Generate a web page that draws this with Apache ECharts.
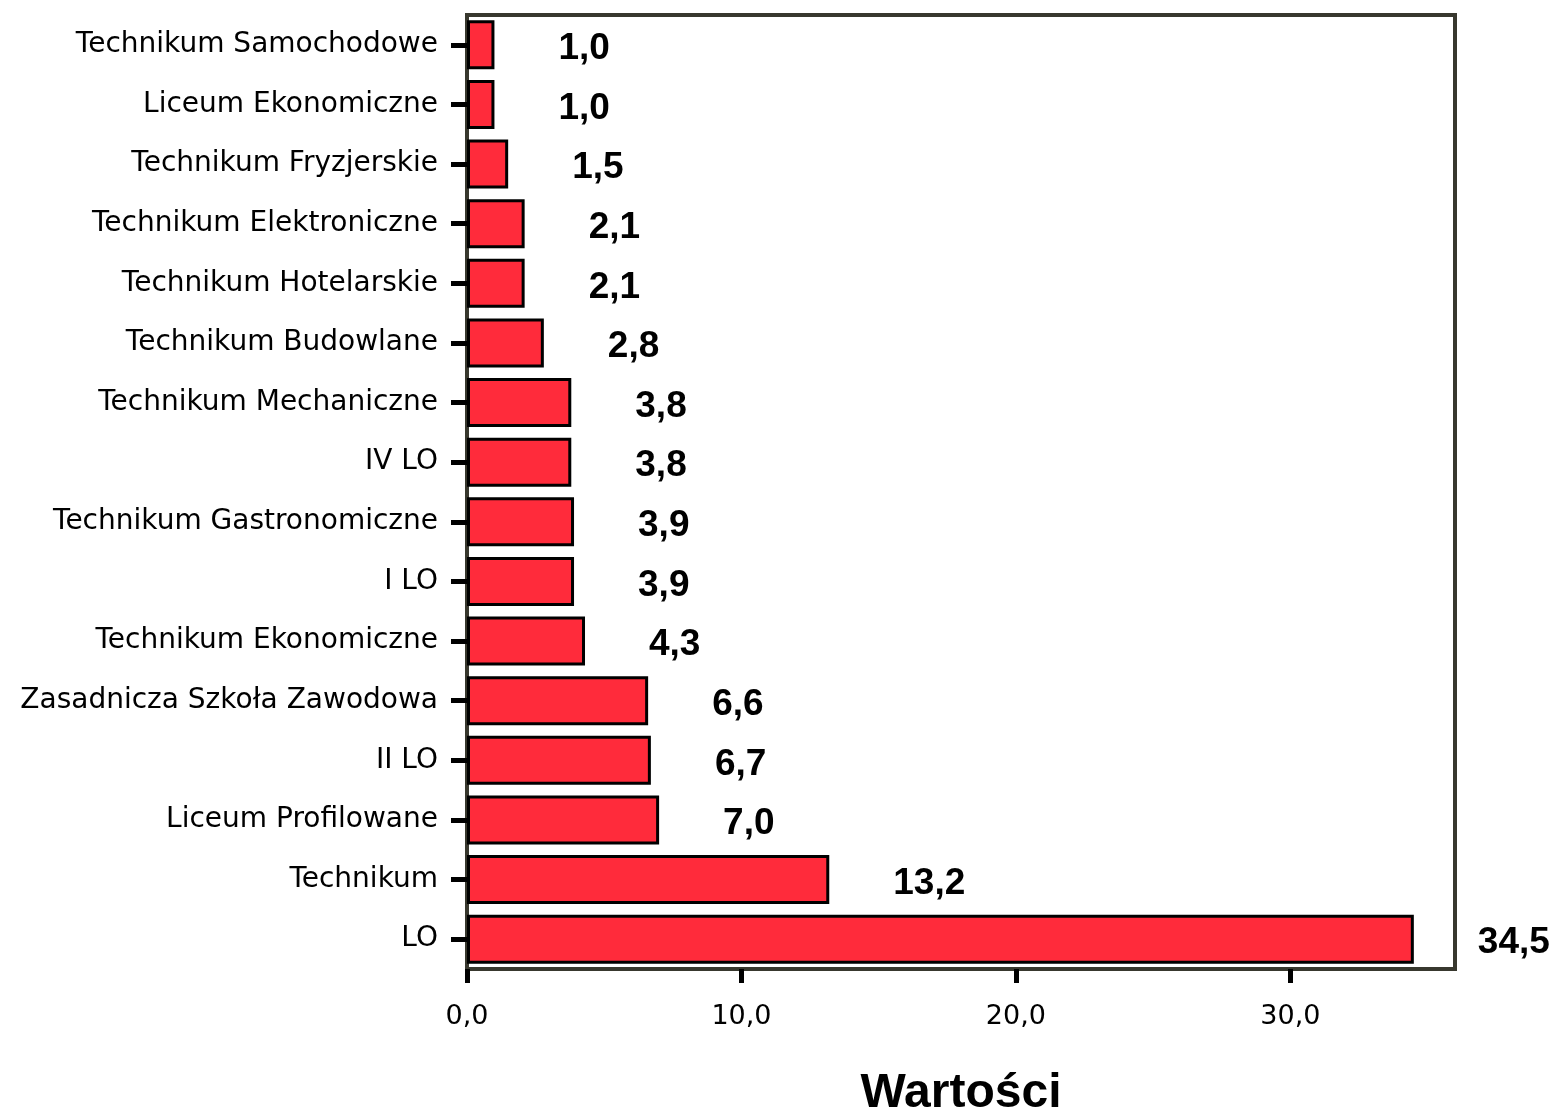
<!DOCTYPE html>
<html>
<head>
<meta charset="utf-8">
<script src="https://cdn.jsdelivr.net/npm/echarts@6/dist/echarts.min.js"></script>
<style>
  html, body { margin: 0; padding: 0; background: #fff; }
  #chart { width: 1558px; height: 1114px; }
</style>
</head>
<body>
<div id="chart"></div>
<script>
// szkoly, od gory do dolu
const schools = [
  'Technikum Samochodowe',
  'Liceum Ekonomiczne',
  'Technikum Fryzjerskie',
  'Technikum Elektroniczne',
  'Technikum Hotelarskie',
  'Technikum Budowlane',
  'Technikum Mechaniczne',
  'IV LO',
  'Technikum Gastronomiczne',
  'I LO',
  'Technikum Ekonomiczne',
  'Zasadnicza Szkoła Zawodowa',
  'II LO',
  'Liceum Profilowane',
  'Technikum',
  'LO'
];
const values = [1.0, 1.0, 1.5, 2.1, 2.1, 2.8, 3.8, 3.8, 3.9, 3.9, 4.3, 6.6, 6.7, 7.0, 13.2, 34.5];
const xTicks = [0, 10, 20, 30];
const axisTitle = 'Wartości';

const fmt = v => Number(v).toFixed(1).replace('.', ',');

const chart = echarts.init(document.getElementById('chart'));
chart.setOption({
  animation: false,
  backgroundColor: '#ffffff',
  grid: {
    left: 467,
    right: 103,
    top: 15,
    bottom: 145,
    outerBoundsMode: 'none',
    containLabel: false,
    show: true,
    borderColor: '#38382e',
    borderWidth: 4
  },
  xAxis: {
    type: 'value',
    min: 0,
    max: 36,
    interval: 10,
    name: axisTitle,
    nameLocation: 'middle',
    nameGap: 101,
    nameTextStyle: {
      fontFamily: 'Liberation Sans',
      fontWeight: 'bold',
      fontSize: 48,
      color: '#000'
    },
    axisLine: { show: false },
    axisTick: {
      show: true,
      length: 14,
      customValues: xTicks,
      lineStyle: { color: '#000', width: 5 }
    },
    axisLabel: {
      customValues: xTicks,
      margin: 34,
      fontFamily: 'DejaVu Sans',
      fontSize: 27,
      color: '#000',
      formatter: fmt
    },
    splitLine: { show: false }
  },
  yAxis: {
    type: 'category',
    data: schools,
    inverse: true,
    axisLine: { show: false },
    axisTick: {
      show: true,
      alignWithLabel: true,
      length: 16,
      lineStyle: { color: '#000', width: 5 }
    },
    axisLabel: {
      margin: 29,
      fontFamily: 'DejaVu Sans',
      fontSize: 28,
      color: '#000'
    }
  },
  series: [{
    type: 'bar',
    data: values,
    barWidth: '82%',
    itemStyle: {
      color: '#ff2b3b',
      borderColor: '#000',
      borderWidth: 3
    },
    label: {
      show: true,
      position: 'right',
      distance: 64,
      offset: [0, 4],
      fontFamily: 'Liberation Sans',
      fontWeight: 'bold',
      fontSize: 37,
      color: '#000',
      formatter: p => fmt(p.value)
    }
  }]
});
</script>
</body>
</html>
